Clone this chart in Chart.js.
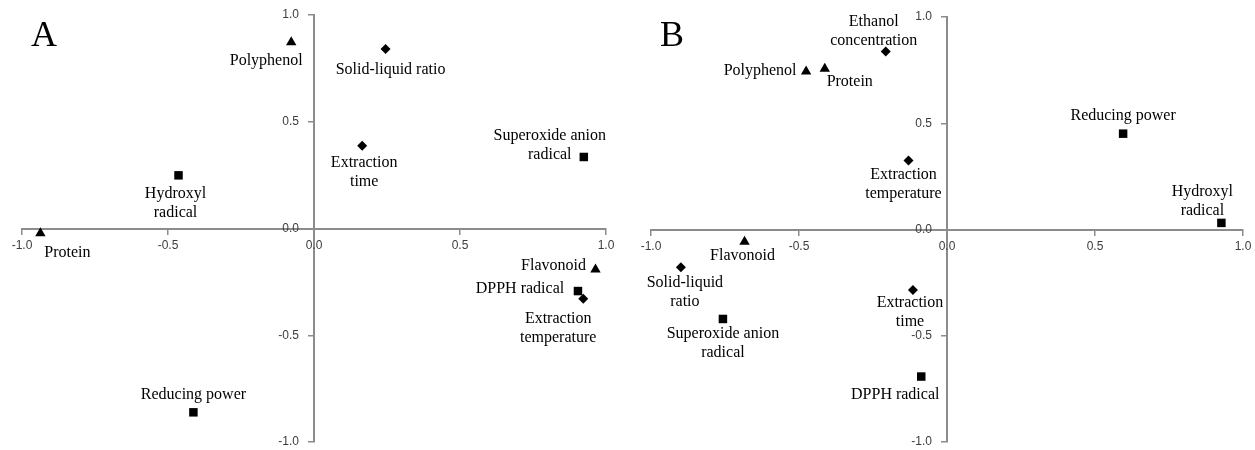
<!DOCTYPE html>
<html>
<head>
<meta charset="utf-8">
<script src="https://cdn.jsdelivr.net/npm/chart.js@4"></script>
<style>
  body { margin: 0; background: #fff; }
  .wrap { position: absolute; top: 0; height: 450px; }
  #boxA { left: 0; width: 625px; }
  #boxB { left: 625px; width: 630px; }
</style>
</head>
<body>
<div class="wrap" id="boxA"><canvas id="chartA" width="625" height="450"></canvas></div>
<div class="wrap" id="boxB"><canvas id="chartB" width="630" height="450"></canvas></div>
<script>
// DATA - panel A
const factorNamesA = ['Solid-liquid ratio', 'Extraction\ntime', 'Extraction\ntemperature'];
const factorXA = [0.245, 0.165, 0.922];
const factorYA = [0.841, 0.388, -0.329];
const compNamesA = ['Polyphenol', 'Protein', 'Flavonoid'];
const compXA = [-0.078, -0.937, 0.964];
const compYA = [0.872, -0.022, -0.192];
const antiNamesA = ['Hydroxyl\nradical', 'Reducing power', 'Superoxide anion\nradical', 'DPPH radical'];
const antiXA = [-0.464, -0.413, 0.924, 0.904];
const antiYA = [0.249, -0.861, 0.335, -0.293];

// DATA - panel B
const factorNamesB = ['Ethanol\nconcentration', 'Extraction\ntemperature', 'Solid-liquid\nratio', 'Extraction\ntime'];
const factorXB = [-0.207, -0.130, -0.899, -0.115];
const factorYB = [0.838, 0.325, -0.178, -0.285];
const compNamesB = ['Polyphenol', 'Protein', 'Flavonoid'];
const compXB = [-0.476, -0.413, -0.684];
const compYB = [0.743, 0.757, -0.058];
const antiNamesB = ['Reducing power', 'Hydroxyl\nradical', 'Superoxide anion\nradical', 'DPPH radical'];
const antiXB = [0.595, 0.927, -0.757, -0.087];
const antiYB = [0.451, 0.031, -0.421, -0.692];

const tickValues = [-1, -0.5, 0, 0.5, 1];

// label placement (pixel offset of first text line from its marker)
const offFactorA = [[5, 21], [2, 17], [-25, 20]];
const offCompA = [[-25, 18], [27, 20], [-42, -4]];
const offAntiA = [[-3, 18], [0, -18], [-34, -21], [-58, -2]];
const offFactorB = [[-12, -30], [-5, 14], [4, 15], [-3, 13]];
const offCompB = [[-46, -1], [25, 13], [-2, 14]];
const offAntiB = [[0, -18], [-19, -31], [0, 15], [-26, 18]];

const axisColor = '#8c8c8c';
const tickColor = '#3c3c3c';

function pts(xs, ys) {
    return xs.map((x, i) => ({ x: x, y: ys[i] }));
}

// tick labels, point labels and the panel letter
const textLayer = {
    id: 'textLayer',
    afterDraw(chart) {
        const ctx = chart.ctx;
        const sx = chart.scales.x, sy = chart.scales.y;
        const x0 = sx.getPixelForValue(0), y0 = sy.getPixelForValue(0);
        ctx.save();
        ctx.fillStyle = tickColor;
        ctx.font = '12px "Liberation Sans", Arial, sans-serif';
        ctx.textBaseline = 'middle';
        ctx.textAlign = 'center';
        tickValues.forEach(v => ctx.fillText(v.toFixed(1), sx.getPixelForValue(v), y0 + 17));
        ctx.textAlign = 'right';
        tickValues.forEach(v => ctx.fillText(v.toFixed(1), x0 - 15, sy.getPixelForValue(v)));

        ctx.fillStyle = '#000';
        ctx.font = '16px "Liberation Serif", "Times New Roman", serif';
        ctx.textAlign = 'center';
        chart.data.datasets.forEach((ds, di) => {
            const meta = chart.getDatasetMeta(di);
            meta.data.forEach((el, i) => {
                const lines = ds.names[i].split('\n');
                const off = ds.offsets[i];
                lines.forEach((ln, k) => ctx.fillText(ln, el.x + off[0], el.y + off[1] + k * 19));
            });
        });
        const p = chart.options.plugins.panel;
        ctx.font = '36px "Liberation Serif", "Times New Roman", serif';
        ctx.fillText(p.text, p.x, p.y);
        ctx.restore();
    }
};

function axis(pos) {
    return {
        type: 'linear', min: -1, max: 1, position: pos,
        afterBuildTicks: s => { s.ticks = tickValues.map(v => ({ value: v })); },
        ticks: { display: false },
        grid: { drawOnChartArea: false, drawTicks: true, tickLength: 5, color: axisColor, lineWidth: 1.5 },
        border: { display: true, color: axisColor, width: 2 }
    };
}

function makeChart(id, letter, letterX, pad, sets) {
    const shapes = ['rectRot', 'triangle', 'rect'];
    const radii = [5, 6, 6];
    return new Chart(document.getElementById(id), {
        type: 'scatter',
        data: {
            datasets: sets.map((s, k) => ({
                data: pts(s[1], s[2]), names: s[0], offsets: s[3],
                pointStyle: shapes[k], pointRadius: radii[k],
                backgroundColor: '#000', borderColor: '#000', borderWidth: 0
            }))
        },
        options: {
            responsive: false, animation: false,
            layout: { padding: pad },
            plugins: { legend: { display: false }, tooltip: { enabled: false }, panel: { text: letter, x: letterX, y: 37 } },
            scales: { x: axis({ y: 0 }), y: axis({ x: 0 }) }
        },
        plugins: [textLayer]
    });
}

makeChart('chartA', 'A', 44, { left: 22, right: 19, top: 15, bottom: 8 }, [
    [factorNamesA, factorXA, factorYA, offFactorA],
    [compNamesA, compXA, compYA, offCompA],
    [antiNamesA, antiXA, antiYA, offAntiA]
]);
makeChart('chartB', 'B', 47, { left: 26, right: 12, top: 17, bottom: 8 }, [
    [factorNamesB, factorXB, factorYB, offFactorB],
    [compNamesB, compXB, compYB, offCompB],
    [antiNamesB, antiXB, antiYB, offAntiB]
]);
</script>
</body>
</html>
